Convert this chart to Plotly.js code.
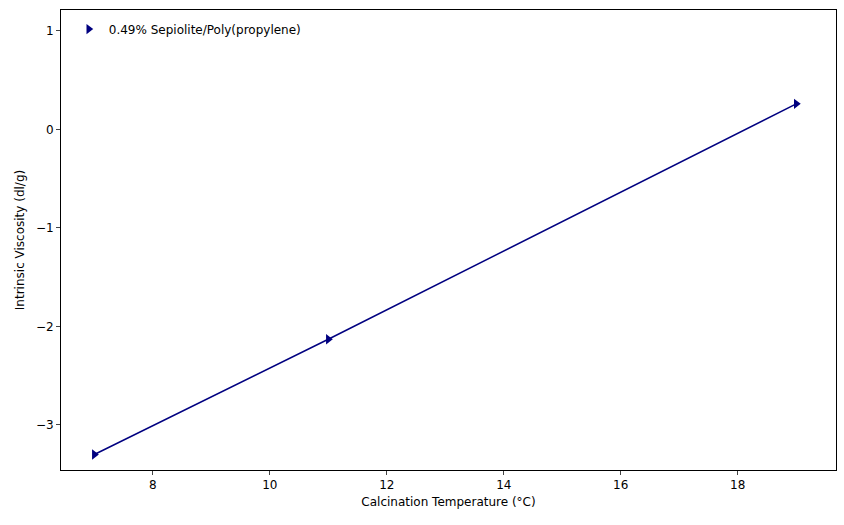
<!DOCTYPE html>
<html>
<head>
<script src="https://cdn.plot.ly/plotly-3.0.1.min.js"></script>
<style>body{margin:0;}</style>
</head>
<body>
<div id="plot" style="width:844px;height:525px;"></div>
<script>
const temps = [7, 11, 19];
const viscosity = [-3.30, -2.13, 0.26];
const seriesName = '0.49% Sepiolite/Poly(propylene)';

// line without legend entry, markers carry the legend (marker-only like the original)
const traceLine = {
    x: temps,
    y: viscosity,
    mode: 'lines',
    showlegend: false,
    line: { color: '#000080', width: 1.5 }
};
const traceMarkers = {
    x: temps,
    y: viscosity,
    mode: 'markers',
    name: seriesName,
    marker: { symbol: 'triangle-right', size: 9, color: '#000080' }
};

const axisCommon = {
    showgrid: false, zeroline: false, showline: true, mirror: true,
    linecolor: 'black', linewidth: 1, ticks: 'outside', ticklen: 4,
    tickfont: { size: 12, color: 'black' }
};

const layout = {
    font: { family: 'DejaVu Sans', size: 12, color: 'black' },
    margin: { l: 61, r: 8, t: 10, b: 55 },
    paper_bgcolor: 'white',
    plot_bgcolor: 'white',
    showlegend: true,
    legend: { x: 0.01, y: 0.99, xanchor: 'left', yanchor: 'top', bgcolor: 'rgba(0,0,0,0)', font: { size: 12 } },
    xaxis: Object.assign({}, axisCommon, {
        title: { text: 'Calcination Temperature (°C)', font: { size: 12 }, standoff: 6 },
        range: [6.43, 19.68], dtick: 2
    }),
    yaxis: Object.assign({}, axisCommon, {
        title: { text: 'Intrinsic Viscosity (dl/g)', font: { size: 12 }, standoff: 8 },
        range: [-3.457, 1.213], dtick: 1, tickformat: 'd'
    })
};

Plotly.newPlot('plot', [traceLine, traceMarkers], layout, { displayModeBar: false });
</script>
</body>
</html>
